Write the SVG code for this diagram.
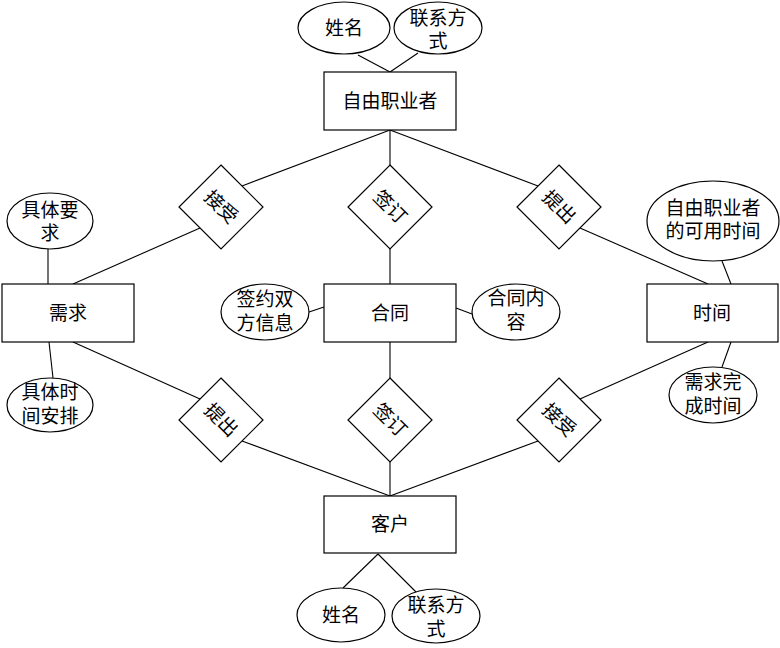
<svg xmlns="http://www.w3.org/2000/svg" width="780" height="648" viewBox="0 0 780 648">
<style>
.s{fill:#fff;stroke:#000;stroke-width:1.2}
.l{stroke:#000;stroke-width:1.1;fill:none}
text{font-family:"Liberation Serif","Noto Sans CJK SC",serif;font-size:19px;fill:#000;text-anchor:middle;dominant-baseline:central}
</style>
<rect width="780" height="648" fill="#fff"/>
<g id="connectors">
<line class="l" x1="358" y1="55" x2="390" y2="72"/>
<line class="l" x1="418" y1="53" x2="390" y2="72"/>
<line class="l" x1="390" y1="130" x2="242" y2="186"/>
<line class="l" x1="390" y1="130" x2="390" y2="166"/>
<line class="l" x1="390" y1="130" x2="538" y2="186"/>
<line class="l" x1="200" y1="228" x2="73" y2="284"/>
<line class="l" x1="580" y1="228" x2="708" y2="284"/>
<line class="l" x1="390" y1="249" x2="390" y2="284"/>
<line class="l" x1="48" y1="249" x2="48" y2="284"/>
<line class="l" x1="49" y1="342" x2="53" y2="378"/>
<line class="l" x1="722" y1="261" x2="731" y2="284"/>
<line class="l" x1="731" y1="342" x2="722" y2="367"/>
<line class="l" x1="309" y1="312" x2="324" y2="307"/>
<line class="l" x1="456" y1="308" x2="472" y2="314"/>
<line class="l" x1="73" y1="342" x2="200" y2="399"/>
<line class="l" x1="708" y1="342" x2="580" y2="399"/>
<line class="l" x1="390" y1="342" x2="390" y2="378"/>
<line class="l" x1="242" y1="441" x2="390" y2="496"/>
<line class="l" x1="538" y1="441" x2="390" y2="496"/>
<line class="l" x1="390" y1="462" x2="390" y2="496"/>
<line class="l" x1="378" y1="554" x2="343" y2="588"/>
<line class="l" x1="378" y1="554" x2="416" y2="592"/>
</g>
<g id="freelancer">
<rect class="s" x="324" y="72" width="132" height="58"/>
<text x="390" y="101">自由职业者</text>
</g>
<g id="fl-name">
<ellipse class="s" cx="344" cy="28" rx="46" ry="26"/>
<text x="344" y="28">姓名</text>
</g>
<g id="fl-contact">
<ellipse class="s" cx="438" cy="28" rx="44" ry="26"/>
<text x="438" y="18">联系方</text>
<text x="438" y="41">式</text>
</g>
<g id="rel-accept-top">
<polygon class="s" points="221,165 263,207 221,249 179,207"/>
<text transform="translate(221,207) rotate(45)">接受</text>
</g>
<g id="rel-sign-top">
<polygon class="s" points="390,165 432,207 390,249 348,207"/>
<text transform="translate(390,207) rotate(45)">签订</text>
</g>
<g id="rel-submit-top">
<polygon class="s" points="559,165 601,207 559,249 517,207"/>
<text transform="translate(559,207) rotate(45)">提出</text>
</g>
<g id="req-detail">
<ellipse class="s" cx="50" cy="221" rx="43" ry="28"/>
<text x="50" y="210">具体要</text>
<text x="50" y="233">求</text>
</g>
<g id="time-avail">
<ellipse class="s" cx="713" cy="221" rx="66" ry="40"/>
<text x="713" y="208">自由职业者</text>
<text x="713" y="231">的可用时间</text>
</g>
<g id="demand">
<rect class="s" x="2" y="284" width="132" height="58"/>
<text x="68" y="313">需求</text>
</g>
<g id="contract">
<rect class="s" x="324" y="284" width="132" height="58"/>
<text x="390" y="313">合同</text>
</g>
<g id="time">
<rect class="s" x="647" y="284" width="131" height="58"/>
<text x="712" y="313">时间</text>
</g>
<g id="sign-parties">
<ellipse class="s" cx="265" cy="312" rx="44" ry="28"/>
<text x="265" y="299">签约双</text>
<text x="265" y="323">方信息</text>
</g>
<g id="contract-content">
<ellipse class="s" cx="516" cy="312" rx="44" ry="28"/>
<text x="516" y="298">合同内</text>
<text x="516" y="322">容</text>
</g>
<g id="req-schedule">
<ellipse class="s" cx="50" cy="405" rx="43" ry="27"/>
<text x="50" y="392">具体时</text>
<text x="50" y="416">间安排</text>
</g>
<g id="req-finish">
<ellipse class="s" cx="713" cy="395" rx="44" ry="28"/>
<text x="713" y="382">需求完</text>
<text x="713" y="406">成时间</text>
</g>
<g id="rel-submit-bottom">
<polygon class="s" points="221,378 263,420 221,462 179,420"/>
<text transform="translate(221,420) rotate(45)">提出</text>
</g>
<g id="rel-sign-bottom">
<polygon class="s" points="390,378 432,420 390,462 348,420"/>
<text transform="translate(390,420) rotate(45)">签订</text>
</g>
<g id="rel-accept-bottom">
<polygon class="s" points="559,378 601,420 559,462 517,420"/>
<text transform="translate(559,420) rotate(45)">接受</text>
</g>
<g id="client">
<rect class="s" x="324" y="496" width="132" height="57"/>
<text x="390" y="524">客户</text>
</g>
<g id="cl-name">
<ellipse class="s" cx="341" cy="615" rx="44" ry="27"/>
<text x="341" y="615">姓名</text>
</g>
<g id="cl-contact">
<ellipse class="s" cx="436" cy="616" rx="44" ry="27"/>
<text x="436" y="605">联系方</text>
<text x="436" y="629">式</text>
</g>
</svg>
